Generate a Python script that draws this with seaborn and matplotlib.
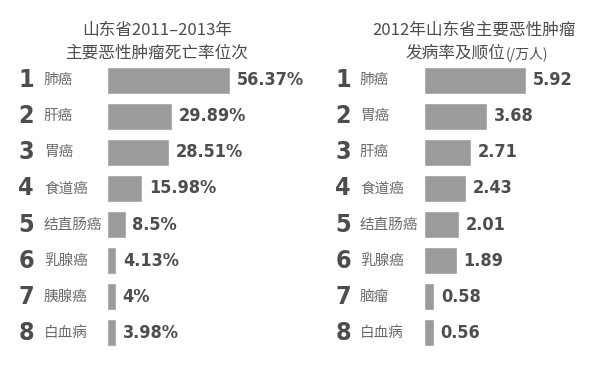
import matplotlib
matplotlib.use("Agg")
import matplotlib.pyplot as plt
import matplotlib.transforms as mtransforms
import seaborn as sns
import pandas as pd

sns.set_theme(style="white")
plt.rcParams['font.family'] = ['Noto Sans CJK SC', 'DejaVu Sans']

ranks = [1, 2, 3, 4, 5, 6, 7, 8]

death_labels = ['肺癌', '肝癌', '胃癌', '食道癌', '结直肠癌', '乳腺癌', '胰腺癌', '白血病']
death_values = [56.37, 29.89, 28.51, 15.98, 8.5, 4.13, 4, 3.98]

inc_title_1 = "2012年山东省主要恶性肿瘤"
inc_title_2 = "发病率及顺位"
inc_unit = "(/万人)"
inc_labels = ['肺癌', '胃癌', '肝癌', '食道癌', '结直肠癌', '乳腺癌', '脑瘤', '白血病']
inc_values = [5.92, 3.68, 2.71, 2.43, 2.01, 1.89, 0.58, 0.56]

W, H = 611, 366
BAR = '#9b9b9b'
DARK = '#4d4d4d'
LABEL = '#6a6a6a'
NUM_FONT = ['DejaVu Sans']

fig = plt.figure(figsize=(W / 100, H / 100), dpi=100)
fig.patch.set_facecolor('white')

top_px, bot_px = 62, 351


def panel(x0_px, x1_px, first_max_px, values, labels, fmt, rank_x, label_x):
    ax = fig.add_axes([x0_px / W, (H - bot_px) / H, (x1_px - x0_px) / W, (bot_px - top_px) / H])
    df = pd.DataFrame({'label': labels, 'value': values})
    sns.barplot(data=df, x='value', y='label', orient='h', color=BAR, width=0.75,
                saturation=1, ax=ax, order=labels)
    xmax = values[0] * (x1_px - x0_px) / (first_max_px - x0_px)
    ax.set_xlim(0, xmax)
    ax.set_ylim(len(labels) - 0.5, -0.5)
    ax.axis('off')
    for c in ax.containers:
        ax.bar_label(c, labels=[fmt(v) for v in values], padding=5, fontsize=13,
                     fontweight='bold', fontstretch='condensed', color=DARK, family=NUM_FONT)
    tr = mtransforms.blended_transform_factory(fig.transFigure, ax.transData)
    for i, (r, lab) in enumerate(zip(ranks, labels)):
        ax.text(rank_x / W, i, str(r), transform=tr, ha='center', va='center',
                fontsize=18, fontweight='bold', fontstretch='condensed', color=DARK, family=NUM_FONT)
        ax.text(label_x / W, i, lab, transform=tr, ha='left', va='center',
                fontsize=10.5, color=LABEL)
    return ax


panel(107, 300, 230, death_values, death_labels, lambda v: f"{v:g}%", 26, 44)
panel(424, 600, 526, inc_values, inc_labels, lambda v: f"{v:.2f}", 343, 360)

fig.text(157 / W, 1 - 30 / H, "山东省2011–2013年", ha='center', va='center',
         fontsize=12, color=DARK)
fig.text(157 / W, 1 - 53 / H, "主要恶性肿瘤死亡率位次", ha='center', va='center',
         fontsize=12, color=DARK)
fig.text(474 / W, 1 - 30 / H, inc_title_1, ha='center', va='center',
         fontsize=12, color=DARK)
fig.text(548 / W, 1 - 54 / H, inc_unit, ha='right', va='center',
         fontsize=10, color=DARK)
fig.text(505 / W, 1 - 53 / H, inc_title_2, ha='right', va='center',
         fontsize=12, color=DARK)

fig.savefig('out.png', dpi=100, facecolor='white')
